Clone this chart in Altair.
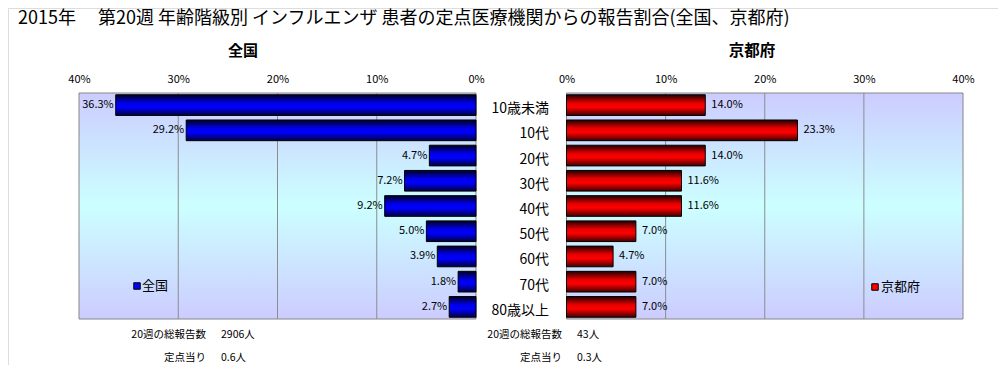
import altair as alt
import pandas as pd

# ---------------- data ----------------
categories = ["10歳未満", "10代", "20代", "30代", "40代", "50代", "60代", "70代", "80歳以上"]
national = [36.3, 29.2, 4.7, 7.2, 9.2, 5.0, 3.9, 1.8, 2.7]
kyoto = [14.0, 23.3, 14.0, 11.6, 11.6, 7.0, 4.7, 7.0, 7.0]
tick_values = [0, 10, 20, 30, 40]
grid_values = [10, 20, 30]
title_text = "2015年　 第20週 年齢階級別 インフルエンザ 患者の定点医療機関からの報告割合(全国、京都府)"
panel_titles = ["全国", "京都府"]
footer_labels = ["20週の総報告数", "定点当り"]
national_footer = ["2906人", "0.6人"]
kyoto_footer = ["43人", "0.3人"]

# ---------------- layout ----------------
FONT = "Noto Sans CJK JP"
W, H = 990, 357
T0, T1 = 85, 311      # plot area top/bottom (view px)
L0, L1 = 71, 468      # left plot area (view px)
R0, R1 = 558.5, 955   # right plot area (view px)

df = pd.DataFrame({"cat": categories, "national": national, "kyoto": kyoto})
base = alt.Chart(df).transform_calculate(
    nlab="format(datum.national, '.1f') + '%'",
    klab="format(datum.kyoto, '.1f') + '%'",
)

yenc = alt.Y("cat:N", sort=categories, axis=None,
             scale=alt.Scale(range=[T0, T1], paddingInner=0.18, paddingOuter=0.07))

lscale = alt.Scale(domain=[0, 40], range=[L1, L0], nice=False, zero=True)
rscale = alt.Scale(domain=[0, 40], range=[R0, R1], nice=False, zero=True)


def top_axis():
    return alt.Axis(orient="top", offset=-T0, values=tick_values,
                    labelExpr="datum.value + '%'",
                    grid=False, domain=False, ticks=False, tickSize=0, labelPadding=9,
                    labelFont=FONT, labelFontSize=11, labelColor="black",
                    labelFlush=False, labelOverlap=False, title=None)


bg_grad = alt.Gradient(gradient="linear", x1=0, x2=0, y1=0, y2=1, stops=[
    alt.GradientStop(color="#ccccff", offset=0),
    alt.GradientStop(color="#ccffff", offset=0.5),
    alt.GradientStop(color="#ccccff", offset=1),
])
blue_grad = alt.Gradient(gradient="linear", x1=0, x2=0, y1=0, y2=1, stops=[
    alt.GradientStop(color="#000020", offset=0),
    alt.GradientStop(color="#0000e8", offset=0.4),
    alt.GradientStop(color="#0000ff", offset=0.6),
    alt.GradientStop(color="#000040", offset=1),
])
red_grad = alt.Gradient(gradient="linear", x1=0, x2=0, y1=0, y2=1, stops=[
    alt.GradientStop(color="#200000", offset=0),
    alt.GradientStop(color="#e80000", offset=0.4),
    alt.GradientStop(color="#ff0000", offset=0.6),
    alt.GradientStop(color="#400000", offset=1),
])

one = alt.Chart(pd.DataFrame({"a": [0]}))

bg_left = one.mark_rect(fill=bg_grad, stroke="#868686", strokeWidth=1).encode(
    x=alt.value(L0), x2=alt.value(L1), y=alt.value(T0), y2=alt.value(T1))
bg_right = one.mark_rect(fill=bg_grad, stroke="#868686", strokeWidth=1).encode(
    x=alt.value(R0), x2=alt.value(R1), y=alt.value(T0), y2=alt.value(T1))

gdf = alt.Chart(pd.DataFrame({"g": grid_values}))
grid_left = gdf.mark_rule(color="#8c8c8c", strokeWidth=1).encode(
    x=alt.X("g:Q", scale=lscale, axis=None), y=alt.value(T0), y2=alt.value(T1))
grid_right = gdf.mark_rule(color="#8c8c8c", strokeWidth=1).encode(
    x=alt.X("g:Q", scale=rscale, axis=None), y=alt.value(T0), y2=alt.value(T1))

bars_left = base.mark_bar(fill=blue_grad, stroke="black", strokeWidth=1).encode(
    x=alt.X("national:Q", scale=lscale, axis=top_axis()), y=yenc)
bars_right = base.mark_bar(fill=red_grad, stroke="black", strokeWidth=1).encode(
    x=alt.X("kyoto:Q", scale=rscale, axis=top_axis()), y=yenc)

lab_left = base.mark_text(align="right", baseline="middle", dx=-2, font=FONT,
                          fontSize=11, color="black").encode(
    x=alt.X("national:Q", scale=lscale, axis=None), y=yenc, text="nlab:N")
lab_right = base.mark_text(align="left", baseline="middle", dx=6, font=FONT,
                           fontSize=11, color="black").encode(
    x=alt.X("kyoto:Q", scale=rscale, axis=None), y=yenc, text="klab:N")

cat_labels = base.mark_text(align="right", baseline="middle", dy=4, font=FONT,
                            fontSize=14, color="black").encode(
    x=alt.value(541), y=yenc, text="cat:N")

title = one.mark_text(align="left", baseline="middle", font=FONT, fontSize=18,
                      color="black").encode(
    x=alt.value(10), y=alt.value(11), text=alt.value(title_text))

ptitle_left = one.mark_text(align="center", baseline="middle", font=FONT, fontSize=15,
                            fontWeight="bold", color="black").encode(
    x=alt.value(235), y=alt.value(43), text=alt.value(panel_titles[0]))
ptitle_right = one.mark_text(align="center", baseline="middle", font=FONT, fontSize=15.5,
                             fontWeight="bold", color="black").encode(
    x=alt.value(744), y=alt.value(43), text=alt.value(panel_titles[1]))

leg_sq_left = one.mark_square(size=42, fill="#0000ff", stroke="black", strokeWidth=1,
                              opacity=1).encode(x=alt.value(129), y=alt.value(278))
leg_tx_left = one.mark_text(align="left", baseline="middle", font=FONT, fontSize=13,
                            color="black").encode(
    x=alt.value(134), y=alt.value(278), text=alt.value(panel_titles[0]))
leg_sq_right = one.mark_square(size=42, fill="#ff0000", stroke="black", strokeWidth=1,
                               opacity=1).encode(x=alt.value(867), y=alt.value(279))
leg_tx_right = one.mark_text(align="left", baseline="middle", font=FONT, fontSize=13,
                             color="black").encode(
    x=alt.value(873), y=alt.value(279), text=alt.value(panel_titles[1]))

footer_layers = []
for i, (lab, nv, kv) in enumerate(zip(footer_labels, national_footer, kyoto_footer)):
    yy = 327 + 23 * i
    for xr, xv, val in [(198, 213, nv), (554, 569, kv)]:
        footer_layers.append(one.mark_text(align="right", baseline="middle", font=FONT,
                                           fontSize=10.5, color="black").encode(
            x=alt.value(xr), y=alt.value(yy), text=alt.value(lab)))
        footer_layers.append(one.mark_text(align="left", baseline="middle", font=FONT,
                                           fontSize=10.5, color="black").encode(
            x=alt.value(xv), y=alt.value(yy), text=alt.value(val)))

chart = alt.layer(
    bg_left, bg_right, grid_left, grid_right, bars_left, bars_right,
    lab_left, lab_right, cat_labels, title, ptitle_left, ptitle_right,
    leg_sq_left, leg_tx_left, leg_sq_right, leg_tx_right, *footer_layers
).resolve_scale(x="independent").properties(
    width=W, height=H,
    autosize=alt.AutoSizeParams(type="none"),
    padding={"left": 0, "top": 0, "right": 0, "bottom": 0},
).configure_view(strokeWidth=0, stroke="transparent").configure(background="white")

chart.save("out.html", embed_options={"renderer": "svg", "actions": False})
